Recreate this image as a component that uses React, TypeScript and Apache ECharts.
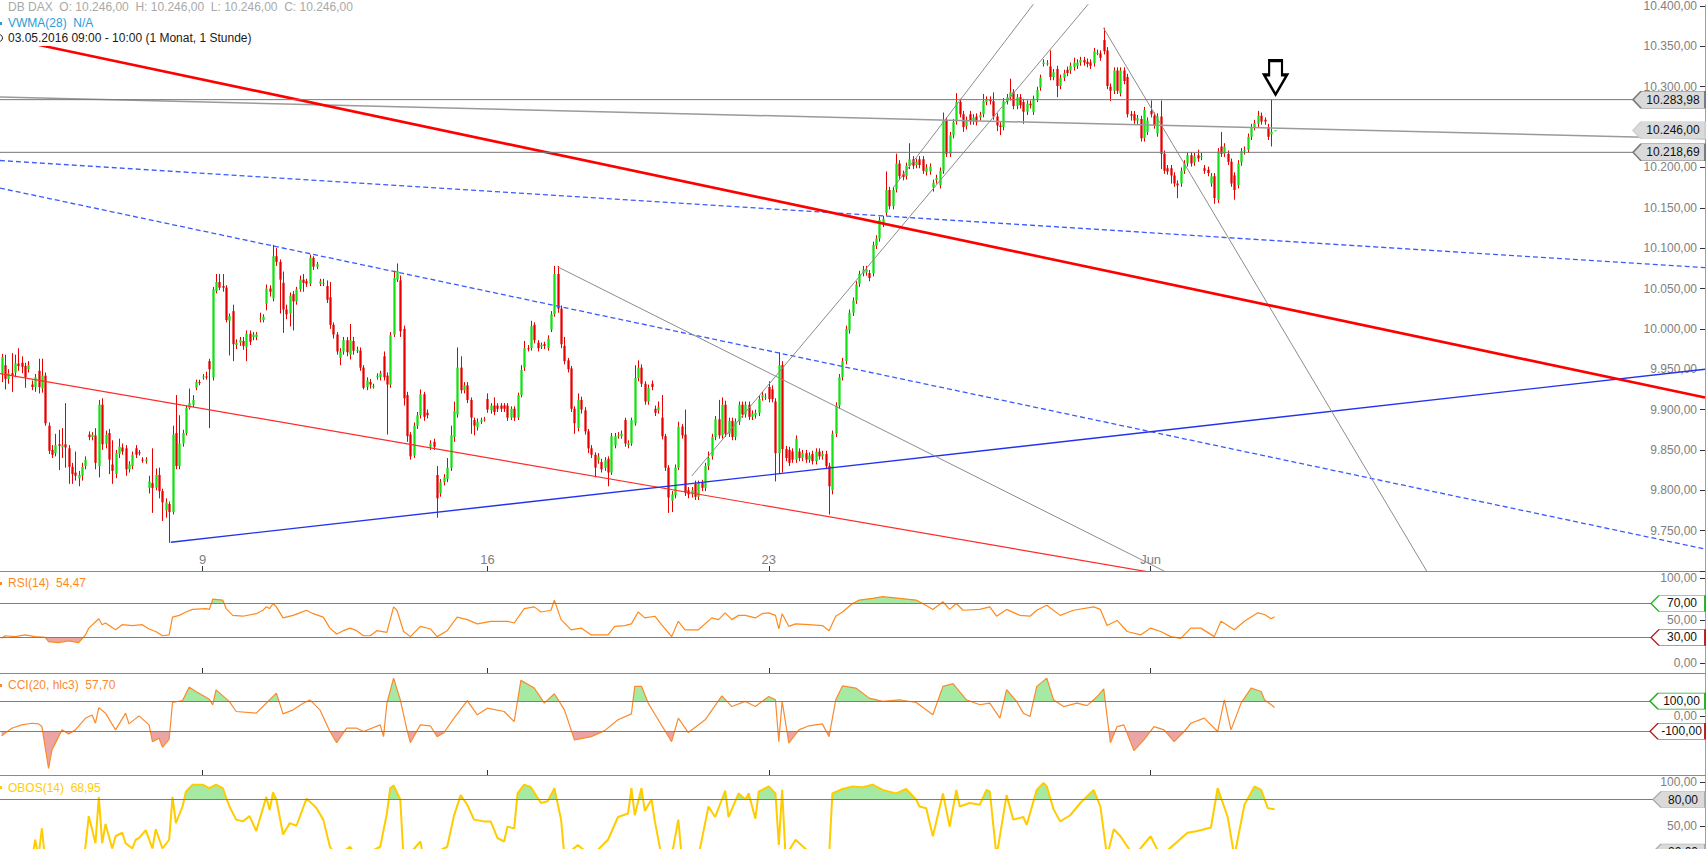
import React, { useEffect, useRef } from 'react';
import * as echarts from 'echarts';

const FONT = '"Liberation Sans", Arial, sans-serif';

// ---- x axis (candle index) ----
const xMin = -0.5;
const xMax = 508.5;
const dayTickIdx = [60, 145, 229, 343];
const dayTickNames = ['9', '16', '23', 'Jun'];

// ---- hourly candles [open, close, low, high] ----
const candlesMay3to6 = [
  [9945,9965,9934,9969],[9955,9938,9925,9968],[9938,9945,9932,9950],[9945,9942,9922,9970],[9946,9957,9940,9968],
  [9957,9954,9948,9976],[9958,9953,9945,9966],[9954,9940,9927,9958],[9950,9955,9946,9960],[9931,9928,9924,9936],
  [9928,9940,9922,9944],[9948,9928,9920,9963],[9926,9942,9921,9963],[9942,9883,9880,9946],[9880,9849,9845,9884],
  [9850,9844,9840,9856],[9846,9856,9842,9870],[9857,9855,9825,9875],[9853,9856,9840,9877],[9857,9853,9828,9908],
  [9852,9829,9808,9856],[9829,9820,9808,9834],[9822,9818,9812,9848],[9815,9819,9805,9824],[9818,9829,9812,9834],
  [9830,9838,9826,9842],[9869,9866,9862,9873],[9866,9869,9862,9872],[9868,9834,9826,9877],[9830,9906,9816,9912],
  [9906,9857,9850,9914],[9857,9869,9852,9874],[9871,9838,9820,9876],[9832,9824,9808,9862],[9820,9846,9815,9850],
  [9845,9854,9840,9864],[9853,9848,9844,9858],[9852,9826,9818,9856],[9826,9832,9822,9836],[9830,9844,9826,9848],
  [9852,9844,9840,9856],[9847,9846,9843,9850],[9838,9837,9834,9841],[9836,9838,9833,9841],[9803,9811,9796,9818],
  [9809,9803,9772,9852],[9803,9819,9800,9827],[9819,9799,9790,9828],[9799,9785,9762,9802],[9775,9785,9766,9790],
  [9783,9773,9735,9786],[9773,9869,9770,9880],[9871,9830,9826,9918],[9830,9858,9826,9893],[9858,9871,9854,9875],
  [9871,9902,9868,9905],[9902,9908,9900,9926],[9906,9912,9903,9918],[9927,9934,9924,9937],[9934,9933,9930,9937],
];
const candlesMay9to13 = [
  [9940,9941,9937,9944],[9941,9940,9937,9947],[9960,9950,9877,9963],[9940,10049,9936,10052],[10047,10058,10044,10068],
  [10058,10051,10048,10068],[10053,10051,10046,10068],[10051,10011,10008,10054],[10010,10016,9967,10019],[10022,9981,9960,10030],
  [9980,9983,9975,9987],[9983,9986,9979,9990],[9985,9979,9974,9990],[9977,9994,9960,9998],[9994,9984,9980,9998],
  [9990,9993,9986,9996],[9990,9993,9986,9996],[10013,10013,10008,10020],[10011,10015,10008,10018],[10031,10050,10023,10055],
  [10050,10046,10040,10054],[10038,10090,10034,10104],[10090,10083,10078,10100],[10083,10061,10019,10086],[10057,10024,9995,10071],
  [10024,10018,10012,10030],[10019,10041,10003,10045],[10043,10034,9998,10047],[10034,10049,10030,10052],[10049,10061,10046,10066],
  [10061,10057,10046,10068],[10059,10056,10052,10062],[10056,10088,10053,10092],[10088,10077,10073,10090],[10077,10080,10074,10083],
  [10056,10059,10053,10062],[10057,10057,10053,10062],[10053,10036,10032,10060],[10039,10005,10000,10058],[10005,9993,9988,10008],
  [9993,9972,9968,9996],[9964,9972,9955,9976],[9972,9986,9968,9990],[9986,9971,9966,9990],[9968,9986,9962,10006],
  [9985,9973,9968,9990],[9974,9974,9970,9978],[9973,9952,9948,9977],[9952,9927,9925,9955],[9928,9936,9924,9940],
  [9934,9931,9926,9938],[9929,9929,9926,9932],[9940,9942,9937,9945],[9940,9945,9936,9948],[9966,9940,9936,9972],
  [9942,9931,9869,9946],[9931,9992,9927,9996],[9993,10063,9990,10072],[10061,10072,10058,10081],[10060,9997,9990,10066],
  [10000,9914,9905,10004],[9918,9867,9860,9922],[9869,9842,9838,9872],[9843,9880,9840,9884],[9880,9893,9876,9897],
  [9893,9919,9889,9925],[9919,9891,9886,9922],[9896,9893,9889,9900],[9854,9858,9850,9862],[9860,9854,9850,9864],
  [9819,9790,9766,9830],[9796,9810,9792,9814],[9810,9816,9806,9820],[9814,9828,9810,9840],[9828,9868,9824,9880],
  [9866,9898,9860,9910],[9894,9952,9890,9977],[9952,9924,9920,9966],[9924,9930,9920,9934],[9930,9912,9908,9934],
  [9912,9890,9870,9915],[9887,9880,9868,9890],[9878,9885,9874,9889],[9885,9887,9882,9890],[9888,9888,9885,9891],
];
const candlesMay16to20 = [
  [9913,9900,9896,9920],[9899,9905,9895,9908],[9905,9897,9893,9915],[9905,9901,9897,9908],[9905,9901,9897,9908],
  [9905,9901,9897,9908],[9905,9890,9886,9908],[9890,9901,9887,9904],[9901,9890,9886,9904],[9890,9918,9887,9921],
  [9918,9949,9915,9955],[9952,9976,9948,9985],[9976,9975,9972,9980],[9976,10003,9973,10010],[10005,9986,9982,10008],
  [9983,9976,9972,9986],[9978,9980,9975,9983],[9981,9979,9975,9984],[9976,9988,9973,9992],[9999,10018,9996,10022],
  [10018,10068,10015,10078],[10068,10025,10020,10078],[10025,9981,9976,10029],[9979,9960,9956,9990],[9961,9950,9946,9964],
  [9951,9901,9897,9954],[9901,9883,9870,9904],[9877,9912,9873,9920],[9912,9900,9895,9916],[9899,9873,9869,9903],
  [9873,9852,9846,9876],[9852,9844,9840,9856],[9844,9828,9816,9847],[9837,9842,9833,9846],[9835,9826,9822,9839],
  [9828,9837,9824,9841],[9839,9822,9805,9842],[9822,9867,9819,9871],[9856,9867,9852,9871],[9867,9868,9864,9872],
  [9867,9870,9864,9874],[9887,9858,9854,9890],[9856,9858,9852,9862],[9858,9887,9855,9890],[9883,9939,9880,9955],
  [9939,9952,9935,9961],[9952,9932,9928,9956],[9932,9910,9906,9935],[9910,9927,9906,9931],[9932,9928,9924,9936],
  [9901,9896,9892,9905],[9899,9903,9895,9910],[9890,9867,9863,9918],[9867,9828,9824,9870],[9828,9791,9772,9831],
  [9787,9795,9773,9799],[9794,9828,9790,9832],[9828,9879,9825,9885],[9879,9868,9864,9882],[9869,9797,9793,9900],
  [9800,9795,9790,9804],[9795,9800,9791,9804],[9808,9792,9788,9812],[9792,9809,9788,9812],[9809,9803,9799,9813],
  [9803,9830,9799,9834],[9830,9840,9825,9848],[9842,9866,9838,9870],[9866,9888,9862,9892],[9888,9868,9864,9912],
  [9868,9906,9864,9915],[9906,9870,9866,9911],[9870,9886,9866,9890],[9886,9866,9862,9890],[9866,9885,9862,9889],
  [9885,9906,9881,9910],[9906,9894,9890,9910],[9894,9906,9890,9910],[9906,9891,9887,9910],[9891,9895,9887,9899],
  [9893,9896,9889,9900],[9896,9913,9892,9917],[9915,9918,9911,9922],[9915,9916,9912,9920],
];
const candlesMay23to31 = [
  [9928,9913,9909,9935],[9925,9913,9909,9930],[9910,9846,9811,9914],[9846,9955,9820,9971],[9955,9851,9822,9960],
  [9851,9840,9836,9855],[9850,9834,9830,9854],[9848,9838,9834,9852],[9838,9864,9834,9868],[9848,9840,9836,9852],
  [9840,9846,9836,9850],[9846,9838,9834,9850],[9838,9843,9834,9847],[9845,9836,9832,9849],[9836,9848,9832,9852],
  [9848,9842,9838,9852],[9842,9845,9838,9849],[9845,9830,9826,9849],[9830,9805,9770,9834],[9800,9870,9795,9874],
  [9870,9905,9866,9909],[9905,9940,9901,9944],[9940,9960,9936,9964],[9960,10000,9956,10004],[9998,10020,9994,10024],
  [10020,10035,10016,10039],[10035,10055,10031,10059],[10056,10068,10052,10072],[10069,10073,10065,10078],[10070,10074,10066,10078],
  [10069,10063,10059,10073],[10069,10104,10065,10108],[10103,10112,10099,10116],[10112,10135,10108,10139],[10130,10136,10126,10140],
  [10144,10172,10140,10195],[10172,10152,10148,10176],[10152,10172,10148,10176],[10173,10205,10169,10217],[10205,10189,10185,10209],
  [10192,10188,10184,10196],[10189,10202,10185,10206],[10202,10210,10198,10230],[10210,10202,10198,10214],[10203,10207,10199,10211],
  [10210,10203,10199,10214],[10210,10196,10192,10214],[10194,10200,10190,10204],[10195,10201,10191,10205],[10175,10181,10170,10185],
  [10184,10187,10180,10191],[10178,10196,10174,10200],[10196,10258,10192,10268],[10258,10217,10213,10262],[10217,10240,10213,10244],
  [10240,10256,10236,10260],[10257,10281,10253,10292],[10281,10266,10262,10285],[10266,10250,10244,10270],[10251,10259,10247,10263],
  [10266,10257,10253,10270],[10257,10262,10253,10266],[10263,10256,10252,10267],[10262,10265,10258,10269],[10266,10282,10262,10291],
  [10281,10284,10277,10288],[10284,10282,10278,10288],[10282,10263,10259,10293],[10263,10252,10245,10267],[10252,10250,10240,10256],
  [10250,10282,10246,10286],[10282,10287,10278,10291],[10287,10293,10283,10310],[10293,10276,10272,10297],[10276,10287,10272,10291],
  [10287,10277,10273,10291],[10281,10269,10254,10285],[10269,10279,10265,10283],[10279,10277,10273,10283],[10269,10285,10265,10289],
  [10285,10296,10281,10300],[10299,10311,10295,10315],[10328,10330,10325,10334],[10329,10329,10326,10333],[10325,10312,10308,10345],
  [10312,10318,10308,10322],[10322,10301,10287,10326],[10301,10311,10297,10315],[10311,10317,10307,10321],[10321,10317,10313,10325],
  [10320,10326,10316,10330],[10324,10330,10320,10336],[10326,10330,10322,10334],[10330,10333,10326,10337],[10333,10330,10326,10337],
  [10331,10328,10324,10335],[10330,10326,10322,10334],[10329,10344,10325,10348],[10342,10342,10339,10346],[10341,10336,10332,10345],
  [10358,10344,10340,10373],[10345,10301,10297,10349],[10300,10295,10282,10304],[10295,10320,10291,10324],[10320,10295,10291,10324],
  [10292,10320,10288,10324],[10320,10307,10303,10324],[10312,10266,10262,10316],[10266,10264,10258,10270],[10266,10258,10254,10270],
  [10258,10261,10254,10265],[10260,10236,10232,10264],[10236,10271,10232,10275],[10244,10258,10240,10262],
];
const candlesJun1to3 = [
  [10270,10266,10262,10283],[10264,10252,10248,10268],[10242,10263,10238,10267],[10263,10217,10198,10283],[10217,10196,10192,10221],
  [10199,10195,10191,10203],[10199,10190,10180,10203],[10190,10180,10176,10194],[10180,10178,10162,10184],[10180,10196,10176,10200],
  [10196,10205,10192,10209],[10205,10215,10201,10219],[10215,10205,10201,10219],[10206,10214,10202,10218],[10215,10211,10207,10222],
  [10213,10214,10209,10218],[10199,10196,10192,10203],[10197,10193,10189,10201],[10180,10189,10176,10193],[10189,10162,10155,10193],
  [10160,10220,10156,10224],[10226,10217,10213,10244],[10217,10226,10213,10230],[10217,10207,10203,10221],[10207,10180,10176,10211],
  [10190,10172,10160,10194],[10178,10205,10174,10209],[10206,10220,10202,10224],[10220,10222,10216,10226],[10222,10238,10218,10242],
  [10238,10250,10234,10254],[10250,10255,10246,10259],[10254,10264,10250,10270],[10264,10257,10253,10268],[10259,10257,10253,10262],
  [10250,10238,10234,10254],[10241,10244,10226,10283.98],[10246,10246,10246,10246],
];

// ---- indicators: [candle index, value] ----
const rsiPoints = [
  [0,29],[1,32],[4,31],[7,33],[10,31],[13,30],[14,25],[17,24],[20,26],[23,24],[25,33],[26,41],[29,52],[30,45],[31,47],
  [34,39],[36,45],[39,44],[42,45],[44,40],[46,37],[48,32],[50,33],[51,54],[53,56],[55,60],[57,63],[61,64],[62,63],[63,75],
  [66,74],[67,64],[69,56],[72,55],[76,58],[78,62],[79,66],[80,64],[81,70],[82,66],[84,53],[87,56],[89,59],[91,62],[93,58],
  [96,54],[98,41],[100,34],[102,38],[104,41],[106,38],[108,32],[110,32],[112,38],[115,36],[117,66],[118,62],[120,37],[122,31],
  [125,43],[128,40],[130,31],[133,38],[136,54],[139,51],[142,46],[146,49],[151,49],[153,47],[156,64],[159,66],[161,60],[164,62],
  [165,74],[167,51],[170,39],[173,41],[176,33],[181,33],[183,43],[186,44],[188,46],[190,60],[192,53],[195,55],[197,45],[200,31],
  [202,49],[204,39],[208,39],[212,53],[214,51],[216,59],[218,51],[220,56],[222,56],[225,53],[227,58],[229,59],[231,56],[232,40],
  [233,58],[235,43],[237,46],[241,45],[245,44],[247,38],[249,55],[251,60],[254,70],[256,74],[260,76],[263,78],[268,76],[273,74],
  [275,70],[278,63],[281,72],[283,63],[285,70],[287,62],[292,63],[295,66],[297,55],[300,63],[304,56],[307,55],[309,62],[312,68],
  [316,56],[320,62],[326,66],[328,63],[330,44],[333,50],[336,37],[340,33],[343,41],[346,37],[349,31],[352,29],[355,41],[358,41],
  [362,31],[364,49],[368,39],[371,49],[375,59],[377,57],[379,52],[380,54.47],
];
const cciPoints = [
  [0,-131],[3,-80],[6,-58],[9,-47],[11,-51],[12,-69],[14,-347],[15,-224],[17,-136],[18,-91],[20,-118],[22,-91],[25,-14],[27,8],
  [28,-47],[29,57],[31,20],[34,-91],[37,20],[38,-51],[41,2],[44,-58],[45,-169],[47,-147],[48,-207],[50,-153],[51,91],[54,104],
  [56,193],[58,164],[62,113],[63,75],[64,175],[68,97],[70,31],[76,20],[78,64],[82,153],[84,15],[87,42],[90,86],[92,108],[95,42],
  [98,-102],[100,-176],[103,-80],[106,-80],[108,-102],[113,-58],[114,-136],[115,86],[117,253],[119,108],[121,-91],[122,-176],
  [125,-58],[128,-65],[130,-136],[132,-110],[135,-14],[139,104],[142,9],[145,53],[150,31],[153,-36],[155,238],[159,187],[162,87],
  [165,149],[168,42],[171,-158],[176,-136],[180,-96],[184,-24],[188,15],[189,198],[191,199],[193,87],[195,13],[200,-169],[202,-13],
  [205,-109],[210,-24],[215,135],[218,64],[222,98],[225,64],[229,131],[231,109],[232,-169],[233,98],[235,-180],[238,-91],[241,-64],
  [245,-51],[247,-136],[249,109],[251,201],[255,187],[259,120],[263,98],[268,109],[273,91],[278,9],[281,198],[284,216],[288,109],
  [292,76],[295,87],[298,-13],[300,176],[303,98],[305,20],[307,-2],[309,198],[312,253],[314,109],[317,64],[321,87],[324,70],
  [327,129],[329,182],[330,-2],[331,-176],[333,-69],[335,-58],[338,-229],[341,-158],[344,-69],[347,-91],[350,-169],[353,-102],
  [355,-47],[359,-13],[363,-102],[365,109],[367,-91],[370,87],[373,187],[376,164],[377,109],[379,76],[380,57.7],
];
const obosPoints = [
  [0,12],[5,18],[9,10],[10,34],[11,15],[12,47],[13,10],[16,8],[20,12],[24,5],[25,26],[26,61],[28,30],[29,83],[30,30],[31,52],
  [33,24],[34,38],[36,42],[37,30],[39,24],[40,34],[41,36],[43,45],[45,24],[46,46],[48,24],[50,34],[51,83],[52,53],[54,72],[55,89],
  [57,97],[60,97],[62,93],[64,97],[66,93],[68,72],[70,57],[72,55],[74,61],[76,44],[79,83],[80,68],[81,88],[82,80],[84,40],[86,53],
  [88,50],[91,81],[93,74],[94,70],[96,57],[98,26],[100,15],[104,26],[106,15],[110,20],[113,26],[115,64],[116,93],[117,96],[119,80],
  [120,10],[125,32],[126,12],[133,26],[135,61],[137,85],[139,74],[141,57],[144,55],[146,55],[148,36],[150,32],[151,49],[153,47],
  [154,87],[156,97],[158,94],[161,76],[163,78],[165,93],[167,57],[168,15],[172,28],[176,15],[181,34],[184,60],[187,64],[188,93],
  [189,62],[191,93],[192,67],[194,80],[195,55],[197,15],[200,15],[202,57],[203,15],[208,15],[211,72],[213,60],[216,90],[217,60],
  [220,87],[222,80],[223,87],[225,58],[226,89],[229,95],[231,87],[232,28],[233,91],[234,15],[237,34],[241,20],[247,15],[248,87],
  [251,92],[254,95],[257,94],[260,97],[263,91],[267,87],[270,92],[273,80],[274,72],[276,70],[278,38],[281,87],[283,49],[285,91],
  [286,72],[289,76],[292,74],[294,91],[295,89],[297,15],[300,85],[302,57],[305,60],[306,51],[309,91],[311,99],[312,95],[314,69],
  [316,55],[319,62],[322,76],[326,91],[328,72],[330,15],[332,46],[334,38],[338,15],[343,38],[346,15],[354,42],[357,44],[361,48],
  [363,93],[366,60],[368,15],[371,74],[374,95],[376,91],[378,70],[380,68.95],
];

// ---- drawings on the price pane: [candle index, price] ----
const lineRedThick = [[-0.5, 10362], [508.5, 9915]];
const lineRedThin = [[-0.5, 9944.6], [345, 9697]];
const lineBlueSolid = [[50.5, 9735.6], [508.5, 9950]];
const lineBlueDashUpper = [[-0.5, 10208.6], [508.5, 10075.9]];
const lineBlueDashLower = [[-0.5, 10174.4], [508.5, 9727.2]];
const lineGrayFromMay17High = [[165.9, 10077], [347, 9700]];
const lineGrayFromTop = [[328.9, 10373], [425.4, 9700]];
const lineGrayChannelLow = [[206, 9817.6], [330, 10430]];
const lineGrayChannelHigh = [[266, 10174], [312, 10424]];
const lineGrayFlat = [[-0.5, 10287.3], [508.5, 10235.6]];
const levelResistance = 10283.98;
const levelSupport = 10218.69;
const lastPrice = 10246.0;

const rsiLevels = [70, 30];
const cciLevels = [100, -100];
const obosLevels = [80, 20];

function de(v: number, dec = 2): string {
  const s = Math.abs(v).toFixed(dec);
  const [i, d] = s.split('.');
  const withDots = i.replace(/\B(?=(\d{3})+(?!\d))/g, '.');
  return (v < 0 ? '-' : '') + withDots + (d !== undefined ? ',' + d : '');
}

const GREEN_FILL = '#a6e9a2';
const RED_FILL = '#eba5a5';
const UP = '#14e014';
const DOWN = '#e80000';

function tag(value: number, width: number, height: number, fill: string, border: string) {
  const h2 = height / 2;
  return {
    coord: [xMax, value],
    value,
    symbol: `path://M0,${h2} L8,0 L${width},0 L${width},${height} L8,${height} Z`,
    symbolSize: [width, height],
    symbolOffset: [-width / 2, 0],
    itemStyle: { color: fill, borderColor: border, borderWidth: 1 },
    label: {
      show: true,
      position: 'inside',
      formatter: de(value),
      color: '#111',
      fontSize: 12,
      fontFamily: FONT,
      offset: [4, 0],
    },
  };
}

export default function App() {
  const ref = useRef<HTMLDivElement>(null);

  useEffect(() => {
    document.body.style.margin = '0';
    document.body.style.overflow = 'hidden';
    document.documentElement.style.overflow = 'hidden';
    if (!ref.current) return;
    const chart = echarts.init(ref.current, undefined, { renderer: 'svg' });

    const allCandles = [
      ...candlesMay3to6,
      ...candlesMay9to13,
      ...candlesMay16to20,
      ...candlesMay23to31,
      ...candlesJun1to3,
    ];
    const candleData = allCandles.map((c, i) => [i, c[0], c[1], c[2], c[3]]);

    const renderItem = (params: any, api: any) => {
      const i = api.value(0);
      const o = api.value(1);
      const c = api.value(2);
      const l = api.value(3);
      const h = api.value(4);
      const pO = api.coord([i, o]);
      const pC = api.coord([i, c]);
      const pL = api.coord([i, l]);
      const pH = api.coord([i, h]);
      const w = Math.max(2, api.size([1, 0])[0] * 0.68);
      const x = Math.round(pO[0]) + 0.5;
      const top = Math.min(pO[1], pC[1]);
      const bh = Math.max(1, Math.abs(pO[1] - pC[1]));
      return {
        type: 'group',
        children: [
          { type: 'line', shape: { x1: x, y1: pH[1], x2: x, y2: pL[1] }, style: { stroke: DOWN, lineWidth: 1 } },
          { type: 'rect', shape: { x: x - w / 2, y: top, width: w, height: bh }, style: { fill: c >= o ? UP : DOWN } },
        ],
      };
    };

    const grids = [
      { left: 0, right: 3, top: 0, height: 571 },
      { left: 0, right: 3, top: 571, height: 102 },
      { left: 0, right: 3, top: 673, height: 102 },
      { left: 0, right: 3, top: 775, height: 105 },
    ];

    const xAxes = grids.map((_, g) => ({
      type: 'value',
      gridIndex: g,
      min: xMin,
      max: xMax,
      position: 'bottom',
      axisLine: { show: true, onZero: false, lineStyle: { color: '#8a8a8a', width: 1 } },
      axisTick: { show: true, inside: true, length: 5, customValues: dayTickIdx, lineStyle: { color: '#333' } },
      axisLabel: {
        show: g === 0,
        inside: true,
        margin: 5,
        customValues: dayTickIdx,
        formatter: (v: number) => dayTickNames[dayTickIdx.indexOf(Math.round(v))] ?? '',
        color: '#808080',
        fontSize: 13,
        fontFamily: FONT,
      },
      splitLine: { show: false },
    }));

    const yCommon = (g: number) => ({
      type: 'value',
      gridIndex: g,
      position: 'right',
      axisLine: { show: true, onZero: false, lineStyle: { color: '#a0a0a0' } },
      axisTick: { show: true, inside: true, length: 5, lineStyle: { color: '#333' } },
      splitLine: { show: false },
    });
    const labelCommon = { inside: true, margin: 8, color: '#808080', fontSize: 12, fontFamily: FONT };

    const yAxes = [
      {
        ...yCommon(0),
        min: 9700,
        max: 10401.6,
        interval: 50,
        axisLabel: {
          ...labelCommon,
          formatter: (v: number) => (v === 9700 ? '' : de(v)),
        },
      },
      {
        ...yCommon(1),
        min: -11.8,
        max: 108.2,
        axisTick: { show: true, inside: true, length: 5, customValues: [0, 50, 100], lineStyle: { color: '#333' } },
        axisLabel: { ...labelCommon, customValues: [0, 50, 100], formatter: (v: number) => de(v) },
      },
      {
        ...yCommon(2),
        min: -391,
        max: 287,
        axisTick: { show: true, inside: true, length: 5, customValues: [0], lineStyle: { color: '#333' } },
        axisLabel: { ...labelCommon, customValues: [0], formatter: (v: number) => de(v) },
      },
      {
        ...yCommon(3),
        min: -12,
        max: 108,
        axisTick: { show: true, inside: true, length: 5, customValues: [0, 50, 100], lineStyle: { color: '#333' } },
        axisLabel: { ...labelCommon, customValues: [0, 50, 100], formatter: (v: number) => de(v) },
      },
    ];

    const series: any[] = [];
    series.push({
      type: 'custom',
      name: 'DB DAX',
      xAxisIndex: 0,
      yAxisIndex: 0,
      data: candleData,
      encode: { x: 0, y: [1, 2, 3, 4] },
      renderItem,
      clip: true,
      z: 2,
      silent: true,
    });

    const drawing = (data: number[][], color: string, width: number, type: any = 'solid') => ({
      type: 'line',
      xAxisIndex: 0,
      yAxisIndex: 0,
      data,
      symbol: 'none',
      silent: true,
      clip: true,
      z: 3,
      lineStyle: { color, width, type },
    });

    series.push(drawing(lineBlueDashUpper, '#3b5bff', 1.3, [5, 3]));
    series.push(drawing(lineBlueDashLower, '#3b5bff', 1.3, [5, 3]));
    series.push(drawing(lineRedThin, '#ff2a2a', 1.2));
    series.push(drawing(lineBlueSolid, '#2233ee', 1.4));
    series.push(drawing(lineGrayFromMay17High, '#8c8c8c', 1));
    series.push(drawing(lineGrayFromTop, '#8c8c8c', 1));
    series.push(drawing(lineGrayChannelLow, '#8c8c8c', 1));
    series.push(drawing(lineGrayChannelHigh, '#8c8c8c', 1));
    series.push(drawing(lineGrayFlat, '#9a9a9a', 1.5));
    series.push(drawing(lineRedThick, '#ff0000', 2.6));

    series.push({
      ...drawing([[xMin, levelResistance], [xMax, levelResistance]], '#777', 1),
      markPoint: {
        silent: true,
        data: [
          tag(levelResistance, 72, 17, '#dadada', '#7a7a7a'),
          tag(lastPrice, 72, 17, '#dadada', '#cfcfcf'),
          {
            coord: [380, levelResistance],
            symbol: 'path://M5.5,0 L19.5,0 L19.5,15 L25,15 L12.5,36 L0,15 L5.5,15 Z',
            symbolSize: [23, 34],
            symbolOffset: [1, -22],
            itemStyle: { color: '#ffffff', borderColor: '#000000', borderWidth: 2.6 },
            label: { show: false },
          },
        ],
      },
    });
    series.push({
      ...drawing([[xMin, levelSupport], [xMax, levelSupport]], '#777', 1),
      markPoint: { silent: true, data: [tag(levelSupport, 72, 17, '#dadada', '#7a7a7a')] },
    });

    const visualMaps: any[] = [];
    const indicator = (
      g: number,
      pts: number[][],
      color: string,
      width: number,
      levels: number[],
      tags: any[],
    ) => {
      const areaIdx = series.length;
      series.push({
        type: 'line',
        xAxisIndex: g,
        yAxisIndex: g,
        data: pts,
        symbol: 'none',
        silent: true,
        z: 1,
        lineStyle: { width: 0, opacity: 0 },
        areaStyle: { origin: levels[0], opacity: 1 },
      });
      visualMaps.push({
        type: 'piecewise',
        show: false,
        seriesIndex: areaIdx,
        dimension: 1,
        pieces: [
          { gt: levels[0], color: GREEN_FILL },
          { gte: levels[1], lte: levels[0], color: 'rgba(255,255,255,0)' },
          { lt: levels[1], color: RED_FILL },
        ],
      });
      series.push({
        type: 'line',
        xAxisIndex: g,
        yAxisIndex: g,
        data: pts,
        symbol: 'none',
        silent: true,
        z: 3,
        lineStyle: { color, width },
        markLine: {
          silent: true,
          symbol: ['none', 'none'],
          label: { show: false },
          lineStyle: { color: '#7d7d7d', type: 'solid', width: 1 },
          data: levels.map((v) => ({ yAxis: v })),
        },
        markPoint: { silent: true, data: tags },
      });
    };

    indicator(1, rsiPoints, '#ff8a1c', 1.2, rsiLevels, [
      tag(rsiLevels[0], 54, 16, '#ffffff', '#1fae1f'),
      tag(rsiLevels[1], 54, 16, '#ffffff', '#b01818'),
    ]);
    indicator(2, cciPoints, '#fa8a30', 1.2, cciLevels, [
      tag(cciLevels[0], 55, 16, '#ffffff', '#1fae1f'),
      tag(cciLevels[1], 55, 16, '#ffffff', '#b01818'),
    ]);
    indicator(3, obosPoints, '#ffcc00', 2, obosLevels, [
      tag(obosLevels[0], 52, 16, '#dadada', '#a8a8a8'),
      tag(obosLevels[1], 52, 16, '#dadada', '#a8a8a8'),
    ]);

    const last = (a: number[][]) => a[a.length - 1][1];
    const txt = (x: number, y: number, text: string, fill: string) => ({
      type: 'text',
      x,
      y,
      z: 101,
      silent: true,
      style: { text, fill, fontSize: 12, fontFamily: FONT, verticalAlign: 'middle' },
    });
    const bg = (x: number, y: number, w: number, h: number) => ({
      type: 'rect',
      z: 100,
      silent: true,
      shape: { x, y, width: w, height: h },
      style: { fill: '#ffffff' },
    });
    const c0 = allCandles[allCandles.length - 1];

    chart.setOption({
      animation: false,
      textStyle: { fontFamily: FONT },
      grid: grids,
      xAxis: xAxes,
      yAxis: yAxes,
      visualMap: visualMaps,
      series,
      graphic: {
        elements: [
          bg(0, 0, 358, 14),
          bg(0, 15, 92, 15),
          bg(0, 31, 258, 15),
          txt(
            8,
            6.5,
            `DB DAX  O: ${de(c0[0])}  H: ${de(c0[3])}  L: ${de(c0[2])}  C: ${de(c0[1])}`,
            '#a9a9a9',
          ),
          { type: 'rect', z: 101, silent: true, shape: { x: 0, y: 22, width: 2, height: 3 }, style: { fill: '#2b9bd6' } },
          txt(8, 23, 'VWMA(28)  N/A', '#2b9bd6'),
          { type: 'circle', z: 101, silent: true, shape: { cx: -1, cy: 38, r: 3.5 }, style: { fill: 'none', stroke: '#222', lineWidth: 1 } },
          txt(8, 38, '03.05.2016 09:00 - 10:00 (1 Monat, 1 Stunde)', '#1a1a1a'),
          { type: 'rect', z: 101, silent: true, shape: { x: 0, y: 582, width: 2, height: 3 }, style: { fill: '#ff8a1c' } },
          txt(8, 583, `RSI(14)  ${de(last(rsiPoints))}`, '#ff8a1c'),
          { type: 'rect', z: 101, silent: true, shape: { x: 0, y: 684, width: 2, height: 3 }, style: { fill: '#fa8a30' } },
          txt(8, 685, `CCI(20, hlc3)  ${de(last(cciPoints))}`, '#fa8a30'),
          { type: 'rect', z: 101, silent: true, shape: { x: 0, y: 786, width: 2, height: 3 }, style: { fill: '#ffcc00' } },
          txt(8, 788, `OBOS(14)  ${de(last(obosPoints))}`, '#ffcc00'),
        ],
      },
    });

    return () => chart.dispose();
  }, []);

  return (
    <div
      ref={ref}
      style={{ position: 'fixed', left: 0, top: 0, width: '1708px', height: '880px', background: '#fff' }}
    />
  );
}
